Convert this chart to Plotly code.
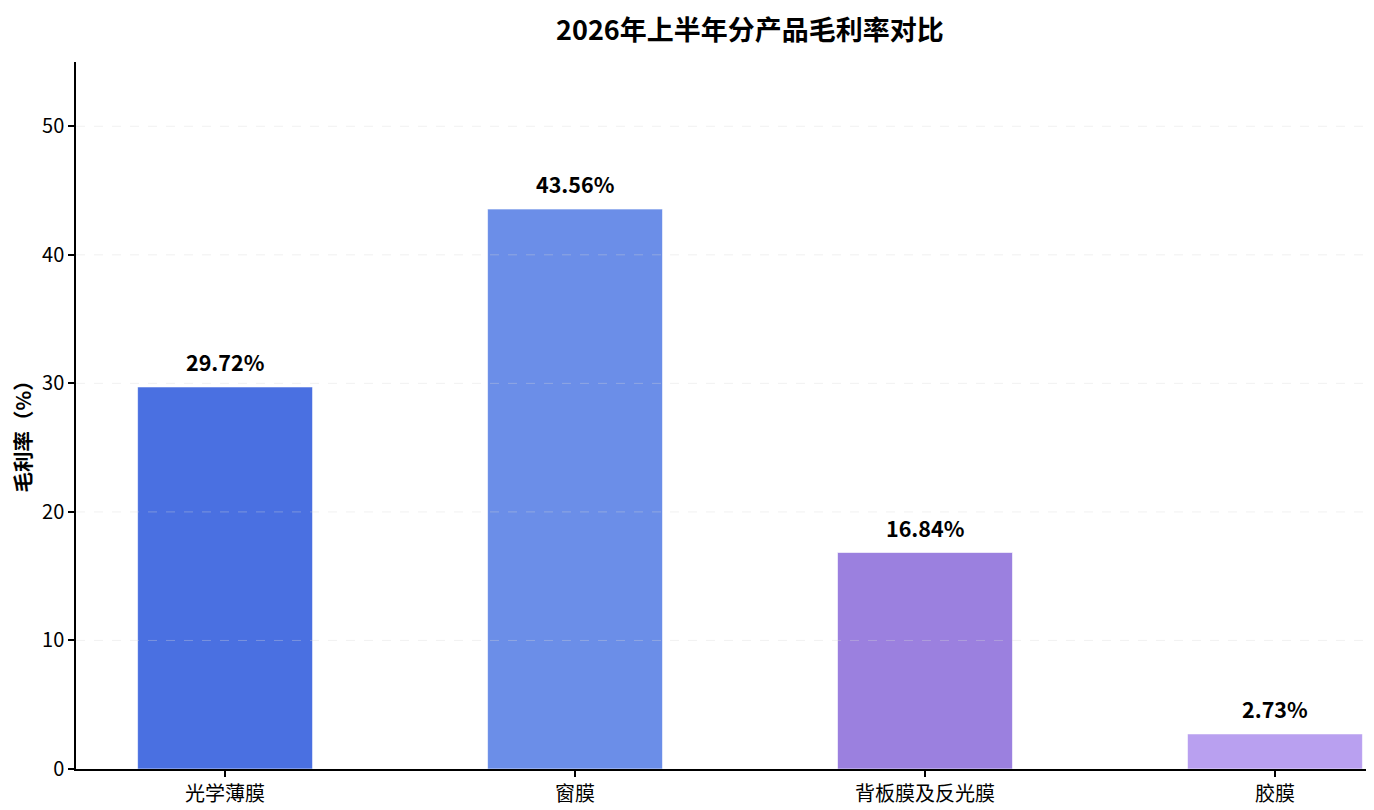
import plotly.graph_objects as go

# data
products = ["光学薄膜", "窗膜", "背板膜及反光膜", "胶膜"]
margins = [29.72, 43.56, 16.84, 2.73]
bar_colors = ["#4A70E1", "#6B8EE8", "#9B80DF", "#B9A0F0"]
y_ticks = [0, 10, 20, 30, 40, 50]

font_family = "Noto Sans CJK SC, Microsoft YaHei, sans-serif"

fig = go.Figure()

fig.add_trace(go.Bar(
    x=products,
    y=margins,
    width=0.5,
    marker=dict(color=bar_colors, line=dict(color="rgba(255,255,255,0.6)", width=1)),
    showlegend=False,
    hoverinfo="x+y",
))

# value labels above each bar
for p, v in zip(products, margins):
    fig.add_annotation(
        x=p, y=v, text=f"<b>{v:.2f}%</b>",
        showarrow=False, yanchor="bottom", yshift=8,
        font=dict(size=21.5, color="black", family=font_family),
    )

# y axis title as an annotation so it can sit where the reference has it
fig.add_annotation(
    xref="paper", yref="paper", x=0, y=0.5,
    xanchor="center", yanchor="middle", xshift=-55, yshift=-16,
    text="<b>毛利率（%）</b>", textangle=-90, showarrow=False,
    font=dict(size=20.5, color="black", family=font_family),
)

# dashed grid drawn over the bars, like the reference
for t in y_ticks[1:]:
    fig.add_shape(
        type="line", xref="paper", yref="y",
        x0=0, x1=1, y0=t, y1=t,
        line=dict(color="rgba(215,215,215,0.35)", width=1, dash="dash"),
        layer="above",
    )

fig.update_layout(
    title=dict(
        text="<b>2026年上半年分产品毛利率对比</b>",
        x=0.54, xanchor="center", y=0.972, yanchor="middle",
        font=dict(size=27, color="black", family=font_family),
    ),
    width=1374,
    height=810,
    margin=dict(l=68, r=8, t=54, b=49),
    paper_bgcolor="white",
    plot_bgcolor="white",
    font=dict(family=font_family, color="black"),
    xaxis=dict(
        range=[-0.426, 3.283],
        automargin=False,
        showline=True, linecolor="black", linewidth=1.5,
        ticks="outside", ticklen=6, tickwidth=1.5, tickcolor="black",
        tickfont=dict(size=20, color="black"),
        showgrid=False, zeroline=False,
    ),
    yaxis=dict(
        range=[0, 55],
        tickvals=y_ticks,
        automargin=False,
        showline=True, linecolor="black", linewidth=1.5,
        ticks="outside", ticklen=6, tickwidth=1.5, tickcolor="black",
        tickfont=dict(size=20, color="black"),
        showgrid=False, zeroline=False,
    ),
)

fig.write_html("out.html")
